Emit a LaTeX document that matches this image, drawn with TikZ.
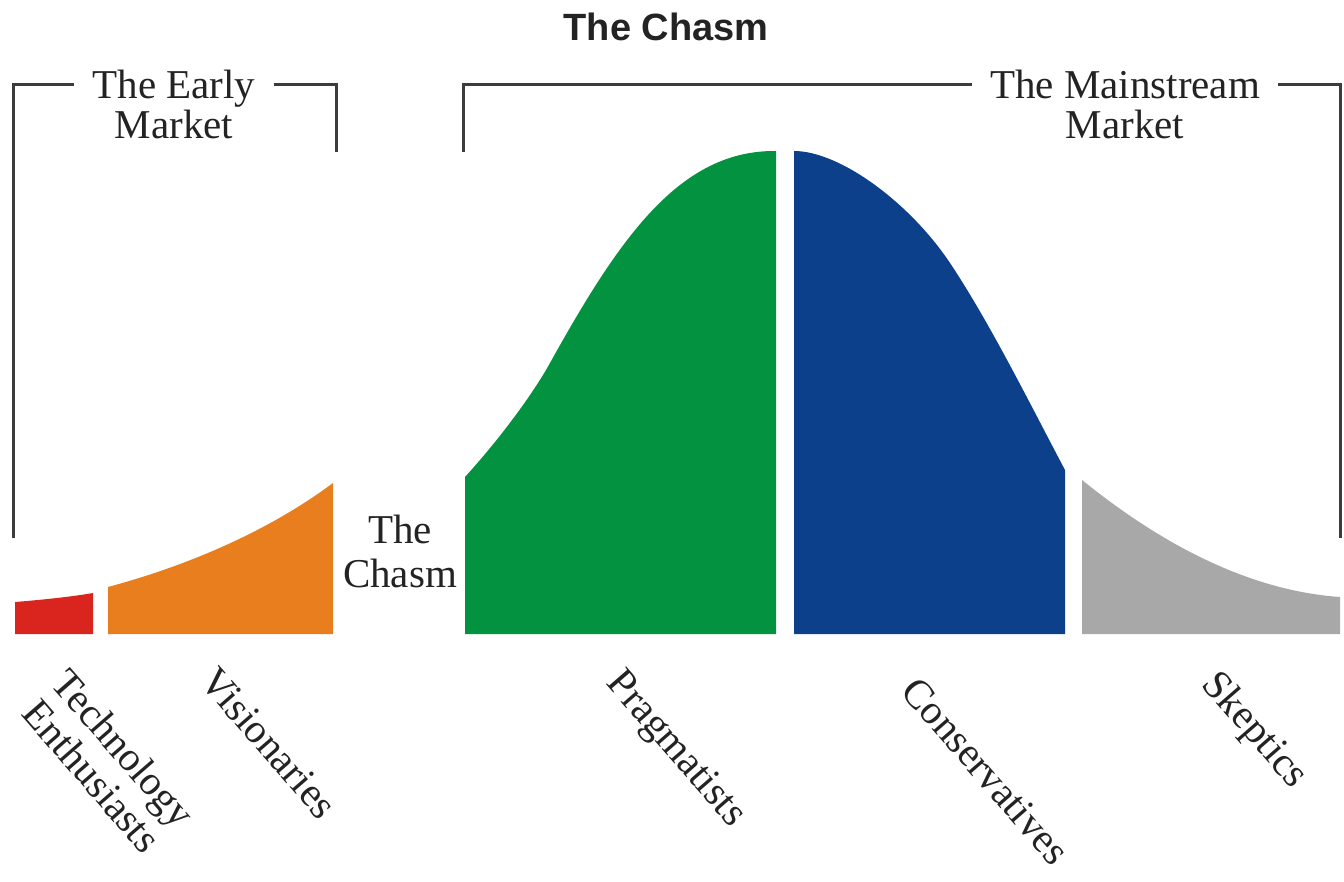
\documentclass[tikz,border=0pt]{standalone}
\usepackage{fontspec}
\setmainfont{Liberation Serif}
\newfontfamily\titlefont{Liberation Sans}
\definecolor{techred}{RGB}{218,36,30}
\definecolor{visorange}{RGB}{232,126,30}
\definecolor{praggreen}{RGB}{2,146,64}
\definecolor{consblue}{RGB}{13,64,138}
\definecolor{skepgray}{RGB}{168,168,168}
\definecolor{linegray}{RGB}{60,60,60}
\definecolor{textgray}{RGB}{35,35,35}
\begin{document}
\begin{tikzpicture}[x=1pt,y=-1pt,
        bracket/.style={draw=linegray, line width=3pt},
        marketlabel/.style={align=center, anchor=north, inner xsep=18pt, inner ysep=0pt,
            font=\fontsize{41}{40}\selectfont, text=textgray},
        grouplabel/.style={rotate=-49, align=center, inner sep=0pt,
            font=\fontsize{41}{42}\selectfont, text=textgray}]
    \useasboundingbox (0,0) rectangle (1344,882);
    \pgfmathsetmacro{\ybase}{634}

    \node[font=\titlefont\bfseries\fontsize{38}{40}\selectfont, text=textgray] (title) at (666,27) {The Chasm};

    % the curve, cut in five
    \fill[techred] (15,\ybase) -- (15,602) .. controls (40,600) and (70,597) .. (93,593) -- (93,\ybase) -- cycle;
    \fill[visorange] (108,\ybase) -- (108,587) .. controls (190,565) and (270,530) .. (333,483) -- (333,\ybase) -- cycle;
    \fill[praggreen] (465,\ybase) -- (465,477) .. controls (495,444) and (530,399) .. (550,363)
        .. controls (620,237) and (680,150) .. (776,151) -- (776,\ybase) -- cycle;
    \fill[consblue] (794,\ybase) -- (794,151) .. controls (840,151) and (910,203) .. (950,263)
        .. controls (990,323) and (1030,404) .. (1065,470) -- (1065,\ybase) -- cycle;
    \fill[skepgray] (1082,\ybase) -- (1082,480) .. controls (1150,535) and (1240,590) .. (1340,597) -- (1340,\ybase) -- cycle;

    \node[marketlabel, font=\fontsize{41}{44}\selectfont] (chasm) at (400,515) {The\\Chasm};

    % brackets
    \node[marketlabel] (early) at (174,70) {The Early\\Market};
    \node[marketlabel] (main) at (1125,70) {The Mainstream\\Market};
    \coordinate (eTL) at (13,85);
    \coordinate (eBL) at (13,538);
    \coordinate (eTR) at (336,85);
    \coordinate (eBR) at (336,152);
    \coordinate (mTL) at (463,85);
    \coordinate (mBL) at (463,152);
    \coordinate (mTR) at (1340,85);
    \coordinate (mBR) at (1340,538);
    \draw[bracket] (eBL) -- (eTL) -- (early.west |- eTL);
    \draw[bracket] (early.east |- eTR) -- (eTR) -- (eBR);
    \draw[bracket] (mBL) -- (mTL) -- (main.west |- mTL);
    \draw[bracket] (main.east |- mTR) -- (mTR) -- (mBR);

    \foreach \x/\y/\L/\n in {108/762/{Technology\\Enthusiasts}/tech, 269/743/Visionaries/vis,
            675/750/Pragmatists/prag, 986/771/Conservatives/cons, 1254/731/Skeptics/skep} {
            \node[grouplabel] (\n) at (\x,\y) {\L};
        }
\end{tikzpicture}
\end{document}
